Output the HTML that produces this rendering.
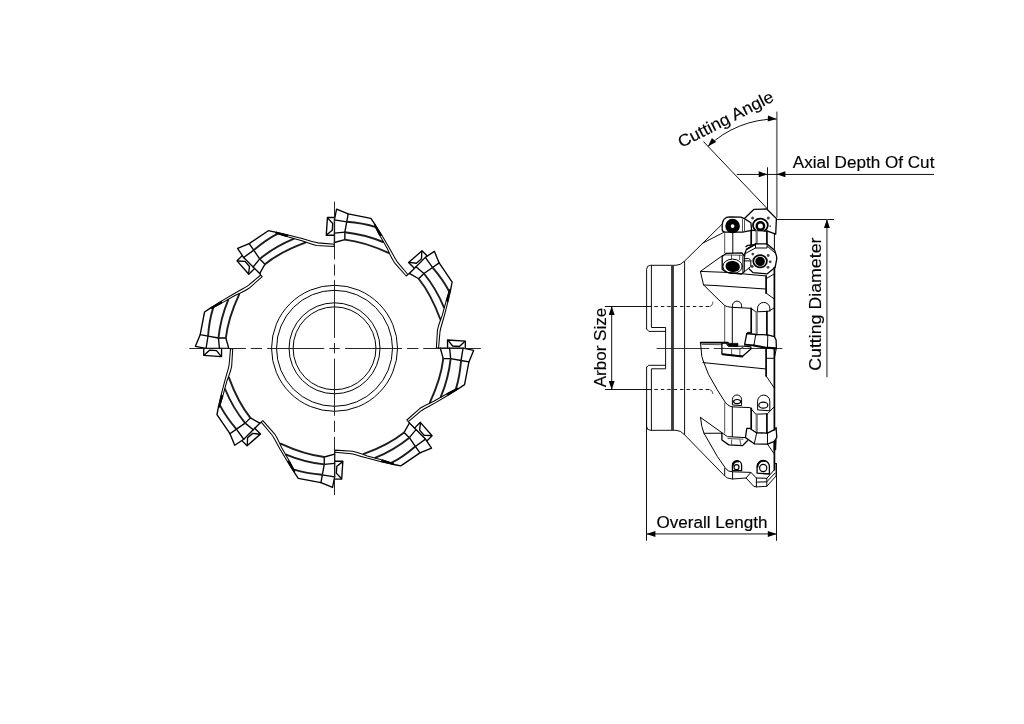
<!DOCTYPE html>
<html><head><meta charset="utf-8"><title>Face mill drawing</title>
<style>
html,body{margin:0;padding:0;background:#fff;overflow:hidden}
svg{display:block;will-change:transform}
.ln path, .ln circle, .sv *{fill:none;stroke:#000;stroke-width:1.25;stroke-linejoin:round;stroke-linecap:round}
.ln .c{stroke-width:1.9;stroke:#1c1c1c}
.ln .g{stroke-width:1.05}
.sv .g{stroke-width:0.85;stroke:#333}
.sv .cn{stroke-width:0.95;stroke:#2a2a2a}
.sv .d{stroke-width:0.9;stroke-dasharray:3.5 2.9;stroke-linecap:butt}
.sv .t{stroke-width:2.9;stroke:#3a3a3a;stroke-linecap:butt}
.sv *{stroke-width:1.0}
.sv .h{stroke-width:0.95}
.sv .i{stroke-width:1.3}
.ln circle{stroke-width:1.0}
.ln .i{stroke-width:1.35}
.sv .k{stroke-width:1.7}
.sv .kk{stroke-width:2.1}
.sv .gk{stroke-width:2.2;stroke:#777}
.sv .s5{stroke-width:5.4}
.sv .s15{stroke-width:1.7}
.sv .s13{stroke-width:1.2}
.sv .s28{stroke-width:2.4}
.sv .s35{stroke-width:3.5;fill:#000}
.sv .s45{stroke-width:4.5}
.sv .dot{fill:#444;stroke:none}
.sv .f{fill:#000;stroke:#000;stroke-width:0.6}
.ln .kf{fill:#000;stroke-width:0.8}
.cl{fill:none;stroke:#1a1a1a;stroke-width:0.95}
.dim path{fill:none;stroke:#111;stroke-width:1}
.dim path.e{stroke:#777;stroke-width:1.7}
.ar{fill:#000;stroke:none}
text{font-family:"Liberation Sans",sans-serif;font-size:16.8px;fill:#000;stroke:#000;stroke-width:0.15px}
</style></head>
<body>
<svg width="1024" height="724" viewBox="0 0 1024 724">
<rect width="1024" height="724" fill="#fff"/>
<g transform="translate(334.55,348.3)" class="ln">
<g transform="rotate(0)"><path class="i" d="M113,-0.1 L113,-8.3 L130.8,-7.1 L130.8,-0.1"/>
 <path class="i" d="M113.6,-7.9 L118,-2.3 L124.8,-1.8 L130.2,-6.8"/>
 <path class="i" d="M105.8,-0.1 L128.5,-0.1 L139.15,2 L134.35,13.6 L130,36.3 L123.1,40.9"/>
 <path class="g" d="M123.1,40.9 L114,46.7 L100.6,54.6 L94.5,58 Q88.5,61.2 86.2,62.9 L73.8,73.3"/>
 <path class="i" d="M105.8,-0.1 L108.7,10.3 L116.1,10.3 L126.5,12.2 L134.35,13.6"/>
 <path class="i" d="M115.1,-0.1 L116.1,10.3"/>
 <path class="i" d="M128.5,-0.1 L126.5,12.3"/>
 <path class="c" d="M108.7,10.3 Q106.5,30 95.4,54"/>
 <path class="c" d="M116.1,10.3 Q114,30 106.3,48.4"/>
 <path class="c" d="M126.5,12.3 Q125.3,28 121.4,40.4"/>
 <path class="kf" d="M123.2,39.8 L112.6,45.2 L112.9,47.2 L123.2,41 Z"/>
 <path class="g" d="M122,40.3 L112,45.7 L99.2,53 L95.6,54.6 Q89,57.6 85.5,60 L72.3,71.7 L73.8,73.3 L74.88,74.74"/></g>
<g transform="rotate(45)"><path class="i" d="M113,-0.1 L113,-8.3 L130.8,-7.1 L130.8,-0.1"/>
 <path class="i" d="M113.6,-7.9 L118,-2.3 L124.8,-1.8 L130.2,-6.8"/>
 <path class="i" d="M105.8,-0.1 L128.5,-0.1 L139.15,2 L134.35,13.6 L130,36.3 L123.1,40.9"/>
 <path class="g" d="M123.1,40.9 L114,46.7 L100.6,54.6 L94.5,58 Q88.5,61.2 86.2,62.9 L73.8,73.3"/>
 <path class="i" d="M105.8,-0.1 L108.7,10.3 L116.1,10.3 L126.5,12.2 L134.35,13.6"/>
 <path class="i" d="M115.1,-0.1 L116.1,10.3"/>
 <path class="i" d="M128.5,-0.1 L126.5,12.3"/>
 <path class="c" d="M108.7,10.3 Q106.5,30 95.4,54"/>
 <path class="c" d="M116.1,10.3 Q114,30 106.3,48.4"/>
 <path class="c" d="M126.5,12.3 Q125.3,28 121.4,40.4"/>
 <path class="kf" d="M123.2,39.8 L112.6,45.2 L112.9,47.2 L123.2,41 Z"/>
 <path class="g" d="M122,40.3 L112,45.7 L99.2,53 L95.6,54.6 Q89,57.6 85.5,60 L72.3,71.7 L73.8,73.3 L74.88,74.74"/></g>
<g transform="rotate(90)"><path class="i" d="M113,-0.1 L113,-8.3 L130.8,-7.1 L130.8,-0.1"/>
 <path class="i" d="M113.6,-7.9 L118,-2.3 L124.8,-1.8 L130.2,-6.8"/>
 <path class="i" d="M105.8,-0.1 L128.5,-0.1 L139.15,2 L134.35,13.6 L130,36.3 L123.1,40.9"/>
 <path class="g" d="M123.1,40.9 L114,46.7 L100.6,54.6 L94.5,58 Q88.5,61.2 86.2,62.9 L73.8,73.3"/>
 <path class="i" d="M105.8,-0.1 L108.7,10.3 L116.1,10.3 L126.5,12.2 L134.35,13.6"/>
 <path class="i" d="M115.1,-0.1 L116.1,10.3"/>
 <path class="i" d="M128.5,-0.1 L126.5,12.3"/>
 <path class="c" d="M108.7,10.3 Q106.5,30 95.4,54"/>
 <path class="c" d="M116.1,10.3 Q114,30 106.3,48.4"/>
 <path class="c" d="M126.5,12.3 Q125.3,28 121.4,40.4"/>
 <path class="kf" d="M123.2,39.8 L112.6,45.2 L112.9,47.2 L123.2,41 Z"/>
 <path class="g" d="M122,40.3 L112,45.7 L99.2,53 L95.6,54.6 Q89,57.6 85.5,60 L72.3,71.7 L73.8,73.3 L74.88,74.74"/></g>
<g transform="rotate(135)"><path class="i" d="M113,-0.1 L113,-8.3 L130.8,-7.1 L130.8,-0.1"/>
 <path class="i" d="M113.6,-7.9 L118,-2.3 L124.8,-1.8 L130.2,-6.8"/>
 <path class="i" d="M105.8,-0.1 L128.5,-0.1 L139.15,2 L134.35,13.6 L130,36.3 L123.1,40.9"/>
 <path class="g" d="M123.1,40.9 L114,46.7 L100.6,54.6 L94.5,58 Q88.5,61.2 86.2,62.9 L73.8,73.3"/>
 <path class="i" d="M105.8,-0.1 L108.7,10.3 L116.1,10.3 L126.5,12.2 L134.35,13.6"/>
 <path class="i" d="M115.1,-0.1 L116.1,10.3"/>
 <path class="i" d="M128.5,-0.1 L126.5,12.3"/>
 <path class="c" d="M108.7,10.3 Q106.5,30 95.4,54"/>
 <path class="c" d="M116.1,10.3 Q114,30 106.3,48.4"/>
 <path class="c" d="M126.5,12.3 Q125.3,28 121.4,40.4"/>
 <path class="kf" d="M123.2,39.8 L112.6,45.2 L112.9,47.2 L123.2,41 Z"/>
 <path class="g" d="M122,40.3 L112,45.7 L99.2,53 L95.6,54.6 Q89,57.6 85.5,60 L72.3,71.7 L73.8,73.3 L74.88,74.74"/></g>
<g transform="rotate(180)"><path class="i" d="M113,-0.1 L113,-8.3 L130.8,-7.1 L130.8,-0.1"/>
 <path class="i" d="M113.6,-7.9 L118,-2.3 L124.8,-1.8 L130.2,-6.8"/>
 <path class="i" d="M105.8,-0.1 L128.5,-0.1 L139.15,2 L134.35,13.6 L130,36.3 L123.1,40.9"/>
 <path class="g" d="M123.1,40.9 L114,46.7 L100.6,54.6 L94.5,58 Q88.5,61.2 86.2,62.9 L73.8,73.3"/>
 <path class="i" d="M105.8,-0.1 L108.7,10.3 L116.1,10.3 L126.5,12.2 L134.35,13.6"/>
 <path class="i" d="M115.1,-0.1 L116.1,10.3"/>
 <path class="i" d="M128.5,-0.1 L126.5,12.3"/>
 <path class="c" d="M108.7,10.3 Q106.5,30 95.4,54"/>
 <path class="c" d="M116.1,10.3 Q114,30 106.3,48.4"/>
 <path class="c" d="M126.5,12.3 Q125.3,28 121.4,40.4"/>
 <path class="kf" d="M123.2,39.8 L112.6,45.2 L112.9,47.2 L123.2,41 Z"/>
 <path class="g" d="M122,40.3 L112,45.7 L99.2,53 L95.6,54.6 Q89,57.6 85.5,60 L72.3,71.7 L73.8,73.3 L74.88,74.74"/></g>
<g transform="rotate(225)"><path class="i" d="M113,-0.1 L113,-8.3 L130.8,-7.1 L130.8,-0.1"/>
 <path class="i" d="M113.6,-7.9 L118,-2.3 L124.8,-1.8 L130.2,-6.8"/>
 <path class="i" d="M105.8,-0.1 L128.5,-0.1 L139.15,2 L134.35,13.6 L130,36.3 L123.1,40.9"/>
 <path class="g" d="M123.1,40.9 L114,46.7 L100.6,54.6 L94.5,58 Q88.5,61.2 86.2,62.9 L73.8,73.3"/>
 <path class="i" d="M105.8,-0.1 L108.7,10.3 L116.1,10.3 L126.5,12.2 L134.35,13.6"/>
 <path class="i" d="M115.1,-0.1 L116.1,10.3"/>
 <path class="i" d="M128.5,-0.1 L126.5,12.3"/>
 <path class="c" d="M108.7,10.3 Q106.5,30 95.4,54"/>
 <path class="c" d="M116.1,10.3 Q114,30 106.3,48.4"/>
 <path class="c" d="M126.5,12.3 Q125.3,28 121.4,40.4"/>
 <path class="kf" d="M123.2,39.8 L112.6,45.2 L112.9,47.2 L123.2,41 Z"/>
 <path class="g" d="M122,40.3 L112,45.7 L99.2,53 L95.6,54.6 Q89,57.6 85.5,60 L72.3,71.7 L73.8,73.3 L74.88,74.74"/></g>
<g transform="rotate(270)"><path class="i" d="M113,-0.1 L113,-8.3 L130.8,-7.1 L130.8,-0.1"/>
 <path class="i" d="M113.6,-7.9 L118,-2.3 L124.8,-1.8 L130.2,-6.8"/>
 <path class="i" d="M105.8,-0.1 L128.5,-0.1 L139.15,2 L134.35,13.6 L130,36.3 L123.1,40.9"/>
 <path class="g" d="M123.1,40.9 L114,46.7 L100.6,54.6 L94.5,58 Q88.5,61.2 86.2,62.9 L73.8,73.3"/>
 <path class="i" d="M105.8,-0.1 L108.7,10.3 L116.1,10.3 L126.5,12.2 L134.35,13.6"/>
 <path class="i" d="M115.1,-0.1 L116.1,10.3"/>
 <path class="i" d="M128.5,-0.1 L126.5,12.3"/>
 <path class="c" d="M108.7,10.3 Q106.5,30 95.4,54"/>
 <path class="c" d="M116.1,10.3 Q114,30 106.3,48.4"/>
 <path class="c" d="M126.5,12.3 Q125.3,28 121.4,40.4"/>
 <path class="kf" d="M123.2,39.8 L112.6,45.2 L112.9,47.2 L123.2,41 Z"/>
 <path class="g" d="M122,40.3 L112,45.7 L99.2,53 L95.6,54.6 Q89,57.6 85.5,60 L72.3,71.7 L73.8,73.3 L74.88,74.74"/></g>
<g transform="rotate(315)"><path class="i" d="M113,-0.1 L113,-8.3 L130.8,-7.1 L130.8,-0.1"/>
 <path class="i" d="M113.6,-7.9 L118,-2.3 L124.8,-1.8 L130.2,-6.8"/>
 <path class="i" d="M105.8,-0.1 L128.5,-0.1 L139.15,2 L134.35,13.6 L130,36.3 L123.1,40.9"/>
 <path class="g" d="M123.1,40.9 L114,46.7 L100.6,54.6 L94.5,58 Q88.5,61.2 86.2,62.9 L73.8,73.3"/>
 <path class="i" d="M105.8,-0.1 L108.7,10.3 L116.1,10.3 L126.5,12.2 L134.35,13.6"/>
 <path class="i" d="M115.1,-0.1 L116.1,10.3"/>
 <path class="i" d="M128.5,-0.1 L126.5,12.3"/>
 <path class="c" d="M108.7,10.3 Q106.5,30 95.4,54"/>
 <path class="c" d="M116.1,10.3 Q114,30 106.3,48.4"/>
 <path class="c" d="M126.5,12.3 Q125.3,28 121.4,40.4"/>
 <path class="kf" d="M123.2,39.8 L112.6,45.2 L112.9,47.2 L123.2,41 Z"/>
 <path class="g" d="M122,40.3 L112,45.7 L99.2,53 L95.6,54.6 Q89,57.6 85.5,60 L72.3,71.7 L73.8,73.3 L74.88,74.74"/></g>
<circle r="63.0"/>
<circle r="58.0"/>
<circle r="45.5"/>
<circle r="41.45"/>
</g>
<path class="cl" d="M189.25,348.5H245.95M250.85,348.5H262.05M267.25,348.5H324.25M329.35,348.5H339.75M345.05,348.5H402.15M407.15,348.5H418.35M423.25,348.5H480.85M334.5,201.60V259.50M334.5,264.40V275.60M334.5,280.20V337.90M334.5,343.00V353.40M334.5,358.70V415.80M334.5,420.80V432.00M334.5,436.90V495.10"/>
<g class="dim">
<path class="e" d="M776.8,111.6V217.7"/>
<path d="M767.5,167.3V208.9 M736.8,174.45H934"/>
<polygon class="ar" points="767.50,174.30 758.70,177.25 758.70,171.35"/>
<polygon class="ar" points="776.60,174.30 785.40,171.35 785.40,177.25"/>
<path d="M703.4,141.5L767.5,208.9"/>
<path d="M708.03,146.37A99.5,99.5 0 0 1 776.6,118.97"/>
<polygon class="ar" points="776.60,118.97 767.66,121.46 767.97,115.56"/>
<polygon class="ar" points="708.03,146.37 711.94,137.95 716.22,142.01"/>
<path d="M777.1,219.5H834"/>
<path class="e" d="M826.9,219.3V377.3"/>
<polygon class="ar" points="826.90,219.30 829.85,228.10 823.95,228.10"/>
<path d="M604.9,306.5H651.3 M604.9,389.5H651.3 M611.7,306.6V389.45"/>
<polygon class="ar" points="611.70,306.30 614.65,315.10 608.75,315.10"/>
<polygon class="ar" points="611.70,389.70 608.75,380.90 614.65,380.90"/>
<path class="e" d="M646.6,533.9H776.6"/>
<path d="M646.5,400V540.8 M776.5,463V540.8"/>
<polygon class="ar" points="646.60,534.00 655.40,531.05 655.40,536.95"/>
<polygon class="ar" points="776.60,534.00 767.80,536.95 767.80,531.05"/>
</g>
<text x="792.8" y="167.8" textLength="141.6" lengthAdjust="spacingAndGlyphs">Axial Depth Of Cut</text>
<text x="656.5" y="527.5" textLength="111.1" lengthAdjust="spacingAndGlyphs">Overall Length</text>
<text x="820.9" y="370.8" textLength="133.3" lengthAdjust="spacingAndGlyphs" transform="rotate(-90 820.9 370.8)">Cutting Diameter</text>
<text x="605.7" y="387.3" textLength="79.6" lengthAdjust="spacingAndGlyphs" transform="rotate(-90 605.7 387.3)">Arbor Size</text>
<text x="681.5" y="148.1" textLength="105" lengthAdjust="spacingAndGlyphs" transform="rotate(-27 681.5 148.1)">Cutting Angle</text>
<g class="sv">
<path class="h" d="M646.6,328.9 V269.3 Q646.6,265.3 650.6,265.3 H675.9 Q680.5,265.3 684.2,261.4 L722.1,224.2"/>
<path class="h" d="M651.4,265.3 V327.5 H665.6 V368.8 H651.4 V430.3"/>
<path class="h" d="M646.6,328.9 L648.8,331.4 H665.6"/>
<path class="h" d="M646.6,367.2 L648.8,365.3 H665.6"/>
<path class="h" d="M646.6,367.2 V426.3 Q646.6,430.3 650.6,430.3 H675.9 Q680.5,430.3 684.2,434.4 L723.3,474.5 Q725.5,477 727.4,478 L732.3,479 L746.1,478 L753.7,486.3 L756.4,486.9 L766.8,486.3 L776.1,475.9"/>
<path class="t" d="M672.5,265.6 V430"/>
<path class="h" d="M684.6,261.4 V434.4"/>
<path class="cn" d="M657,348.5 H708.9 M714.2,348.5 H782"/>
<path class="d" d="M654.4,306.5 H709.5"/>
<path class="g" d="M709.8,306.5 Q712.6,306.2 712.9,302"/>
<path class="d" d="M654.4,389.5 H709.5"/>
<path class="g" d="M709.8,389.5 Q712.6,389.9 712.9,393.6"/>
<path class="h" d="M702.8,243.1 L723.4,232.6"/>
<path class="i" d="M722.2,224.2 Q723,217.2 729.5,216.9 L740.8,217.1 L744.4,218.6 L750.9,222.8 L751.6,230.4 L742.6,232.1 L725.4,232.2 Q722.6,232 722.2,229.8 Z"/>
<path class="g" d="M742.5,219.6 V231.8 M744.5,220.2 V231.6"/>
<circle class="s5" cx="732.6" cy="226.05" r="4.6"/>
<path class="i" d="M744.7,218.3 L754,209.3 L766.8,209 L776.4,218.6 L775.7,234.2 L767.5,231.1 L751.6,230.4"/>
<path class="s15" d="M756.16,230.71 A7.4,6.6 0 1 1 764.64,230.71"/>
<circle class="s28" cx="760.4" cy="226.0" r="3.7"/>
<circle class="dot" cx="752.6" cy="218.1" r="1.5"/>
<circle class="dot" cx="768.3" cy="218.1" r="1.5"/>
<circle class="dot" cx="770.2" cy="226.1" r="0.9"/>
<path class="g" d="M724.7,232.1 V252.8"/>
<path d="M732.8,232.1 V252.8"/>
<path class="k" d="M751.2,230.4 V245"/>
<path class="gk" d="M756.7,231 V243.5"/>
<path class="k" d="M766.9,231.1 V244"/>
<path d="M774.4,234.2 V249"/>
<path class="i" d="M755.5,243.9 H767.1 L774.6,250.2 L776.5,256 L776.8,258.6 L775.1,267.6 L766.9,273.9 L753,272.6 L749.3,269"/>
<path class="i" d="M755.5,243.9 L746.4,249.4 L744.8,253.8 L744.7,255.9"/>
<path d="M755.5,243.9 V248 H767.1 V243.9 M755.5,248 L744.8,253.8 M767.6,246.5 L774.8,252.6"/>
<path class="i" d="M745.9,246.6 L748,245.3 L754.7,244.7 L747,249.1"/>
<ellipse class="s15" cx="760.1" cy="261.2" rx="6.8" ry="6.1"/>
<ellipse class="s45" cx="760.1" cy="261.4" rx="2.6" ry="2.3"/>
<circle class="dot" cx="752.8" cy="254.1" r="1.4"/>
<circle class="dot" cx="768.2" cy="255.5" r="1.4"/>
<circle class="dot" cx="770.2" cy="261.8" r="1.4"/>
<circle class="dot" cx="768" cy="267.3" r="1.4"/>
<circle class="dot" cx="752.2" cy="266.5" r="1.4"/>
<path class="i" d="M722.2,256.4 L725.9,253.4 L741.9,252.8 L744.2,255.9 V271.8 L741.2,274.2 L726.7,272.4 L722.2,269.3 Z"/>
<path class="g" d="M724.5,254.9 L742.5,255.3 M731.5,255 V258.8 M739.6,255.3 V259.6 M742.6,256 V273"/>
<path d="M744.2,260.9 L750.8,260.9 V266.4 L744.6,271.6"/>
<path d="M744.4,258.8 L748.5,258.4 L751.2,260.6"/>
<ellipse cx="732.6" cy="266.3" rx="9.7" ry="7.2"/>
<ellipse class="s35" cx="732.7" cy="266.5" rx="5.5" ry="3.8" transform="rotate(8 732.7 266.5)"/>
<path d="M722.6,255.5 L700.4,271.4 L726.7,272.4 L765.4,275.9"/>
<path d="M700.4,271.4 L703.5,284.8 L715,296.2 L724.7,305.5 Q727,307 731.6,307.3 L750.9,308.3 L755.7,311.8 L768.2,311.4 L773.7,308.3"/>
<path d="M703.5,285 L715,285.5 L765.4,289"/>
<path class="k" d="M766.1,275.9 V293.1"/>
<path d="M766.1,293.1 L773.7,298.6"/>
<path d="M766.8,278.3 L774.4,273.8"/>
<path class="k" d="M774.4,267.6 V336.2"/>
<path d="M732.4,307.2 V305.7 A4.6,4.6 0 0 1 741.6,305.7 V307.6"/>
<path d="M757.5,311.6 V308.6 A6.2,6.2 0 0 1 769.9,308.6 V311.2"/>
<path class="g" d="M724.7,305.5 V342.8"/>
<path d="M732.3,307.3 V343.1"/>
<path class="k" d="M751.2,308.3 V332.8"/>
<path class="gk" d="M756.7,311.8 V334.5"/>
<path class="k" d="M766.9,311.4 V334.8"/>
<path class="i" d="M744.7,344.2 L746.8,333.5 L756.4,334.5 L767.5,334.8 L774.4,336.6 L776.1,340 L776.4,348.3"/>
<path d="M746.8,333.5 L747.5,332.4 H751.2"/>
<path class="k" d="M745,344.7 L753.7,345.4"/>
<path class="kk" d="M753.7,345.5 L764.9,347.5 L775.5,348.4"/>
<path d="M755.7,334.8 L754,344.9 M767.8,335.2 L767.5,346.6"/>
<path class="k" d="M700.7,342.7 L728,342.6"/>
<path class="g" d="M702,344.4 L721.9,344.7"/>
<path class="i" d="M721.9,343.1 V353.8 L742.6,356.2 L750.9,349 V346.9 L744.7,346.2"/>
<path d="M721.9,343.1 H726 L728.1,346.2 H744"/>
<path class="f" d="M727.2,343.3 H738 V346.5 L728.8,346.2 Z"/>
<path class="g" d="M731.6,348.3 V354.7 M739.9,349 V355.9 M722,348.3 L739.9,349 L744.7,346.2"/>
<path class="k" d="M722.5,354.3 L742.4,356.6"/>
<path d="M700.5,343 L701.8,356.3 L702.9,360 L708.5,374.4 L717.3,389.8 L725,402 Q727.5,405.4 730.2,406.3 L733,406.9 L750.2,407.6 L755.7,414.2 L767.5,413.8 L774,406.9"/>
<path d="M703,362.6 L765.4,368.9"/>
<path class="k" d="M766.1,348.3 V375.9"/>
<path d="M766.1,375.9 L774,387.6"/>
<path d="M766.8,358.3 H774.4"/>
<path class="k" d="M774.4,348.3 V430"/>
<path d="M776.4,348.3 L774.6,356.6"/>
<path d="M732.4,404.6 V399.5 A4.6,4.6 0 0 1 741.6,399.5 V405.2 Z"/>
<ellipse class="s13" cx="737.1" cy="401.6" rx="3.5" ry="2.1"/>
<path d="M757.6,409.5 V401.2 A6.1,6.1 0 0 1 769.8,401.2 V410.4 Z"/>
<ellipse class="s13" cx="763.3" cy="405.2" rx="4.5" ry="3.0"/>
<path class="g" d="M724.7,403 V433"/>
<path d="M732.3,407 V436.6"/>
<path class="k" d="M751.2,408.3 V428.3"/>
<path class="gk" d="M756.7,414.5 V432.5"/>
<path class="k" d="M766.9,414 V433"/>
<path class="i" d="M746.8,428.3 H749.5 L756.4,432.8 L767.5,433.1 L774.4,429.7 L776.1,427.6 L776.8,437.3 L774.4,441.4 L767.5,444.2 L754.3,443.8 L745.4,437.6 Z"/>
<path d="M756.7,432.8 L754.3,443.8 M767.5,433.1 V444.2"/>
<path class="f" d="M774.2,441.4 L776.3,439.5 L775.8,450 L774.2,450 Z"/>
<path d="M700.5,417.4 L727.4,436.6 L744.7,437.6"/>
<path d="M704,433.3 L721.9,433.2"/>
<path class="i" d="M721.9,433.2 V440 L728.8,444.9 L742.6,445.6 L747.4,440.7"/>
<path class="g" d="M728,438.5 L743,439.2 M731.6,440 V445 M739.9,440 L741,445.4"/>
<path d="M700.5,417.4 L701.8,426.3 L704,433.3 L717.3,456.4 L725,467.5 Q727,470.3 728.8,471.1 L733,471.8 L750.9,472.4 L756.4,478 L766.8,478.3 L774.4,469.7"/>
<path d="M756.7,482.1 L766.8,481.8 L775,473.1"/>
<path d="M724.7,468.3 V475.5 M732.6,471.8 V479 M750.9,472.4 L746.1,478 M756.4,478 V486.9 M766.8,478.3 V486.3"/>
<path d="M767.5,444.2 L774,453.5"/>
<path class="k" d="M774.4,441.4 V469.7"/>
<path d="M774.4,462.8 L776.1,463.8 V475.9"/>
<path class="i" d="M732.4,470.4 V465.3 A4.6,4.6 0 0 1 741.6,465.3 V470.6 Z"/>
<path class="k" d="M732.9,465.6 A4.3,4.3 0 0 1 738.5,461.6"/>
<circle class="s13" cx="736.5" cy="467.2" r="2.5"/>
<path class="i" d="M757.1,473.2 V466.6 A6.15,6.15 0 0 1 769.4,466.6 V474 Z"/>
<path class="k" d="M757.6,466.8 A5.8,5.8 0 0 1 765,461.2"/>
<circle class="s13" cx="763.2" cy="468" r="3.6"/>
</g>
</svg>
</body></html>
